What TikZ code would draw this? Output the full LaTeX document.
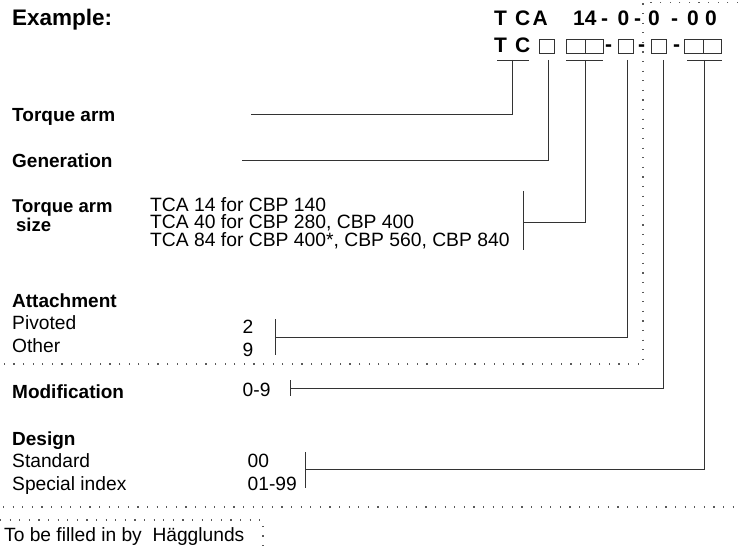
\documentclass[tikz,border=0pt]{standalone}
\usepackage{fontspec}
\setmainfont{Liberation Sans}
\begin{document}
\begin{tikzpicture}[x=1bp,y=-1bp,
 txt/.style={anchor=base west,inner sep=0pt,font=\fontsize{19.2bp}{19.2bp}\selectfont},
 btxt/.style={anchor=base west,inner sep=0pt,font=\fontsize{19bp}{19bp}\selectfont\bfseries},
 code/.style={anchor=base west,inner sep=0pt,font=\fontsize{21bp}{21bp}\selectfont\bfseries},
 sq/.style={draw=black!80,line width=0.9bp,minimum height=14bp,inner sep=0pt,anchor=north west},
 sqs/.style={sq,minimum width=15bp},
 sqw/.style={sq,minimum width=18.5bp},
 ln/.style={draw=black!80,line width=0.9bp},
 dots/.style={draw=black!65,line width=1.3bp,dash pattern=on 1.2bp off 8.4bp}]
\useasboundingbox (0,0) rectangle (738,553);

% ---- header row 1
\node[code] (h1) at (12,26) {\fontsize{22.5bp}{22.5bp}\selectfont Example:};
\node[code] (cT) at (494,26) {T};
\node[code] (cC) at (515,26) {C};
\node[code] (cA) at (532.5,26) {A};
\node[code] (c14) at (573,26) {14};
\node[code] (cd1) at (601,26) {-};
\node[code] (c0a) at (617.5,26) {0};
\node[code] (cd2) at (634,26) {-};
\node[code] (c0b) at (648,26) {0};
\node[code] (cd3) at (671,26) {-};
\node[code] (c0c) at (687,26) {0};
\node[code] (c0d) at (705,26) {0};

% ---- header row 2
\node[code] (rT) at (494,52.7) {T};
\node[code] (rC) at (515,52.7) {C};
\node[sqs] (b1) at (539,39) {};
\node[sqw] (b2a) at (566,39) {};
\node[sqw] (b2b) at (584.5,39) {};
\node[code] (rd1) at (605,52) {-};
\node[sqs] (b3) at (618,39) {};
\node[code] (rd2) at (638,52) {-};
\node[sqs] (b4) at (651,39) {};
\node[code] (rd3) at (673,52) {-};
\node[sqw] (b5a) at (684,39) {};
\node[sqw] (b5b) at (702.5,39) {};

% ---- labels
\node[btxt] (lTA) at (12,121.7) {Torque arm};
\node[btxt] (lGen) at (12,167.7) {Generation};
\node[anchor=north west,inner sep=0pt,align=left,
      font=\fontsize{18.5bp}{14.4bp}\selectfont\bfseries] (lSz) at (12,200)
      {Torque arm\\\hspace*{4bp}size};
\node[anchor=north west,inner sep=0pt,align=left,
      font=\fontsize{19.3bp}{17.5bp}\selectfont] (sizes) at (150,197)
      {TCA 14 for CBP 140\\TCA 40 for CBP 280, CBP 400\\TCA 84 for CBP 400*, CBP 560, CBP 840};
\node[btxt] (lAt) at (12,307.3) {Attachment};
\node[txt] (lPiv) at (12,329.3) {Pivoted};
\node[txt] (lOth) at (12,352.5) {Other};
\node[txt] (n2) at (242.5,333) {2};
\node[txt] (n9) at (242.5,356) {9};
\node[btxt] (lMod) at (12,398.3) {Modification};
\node[txt] (n09) at (242.5,396) {0-9};
\node[btxt] (lDes) at (12,445) {Design};
\node[txt] (lStd) at (12,467.7) {Standard};
\node[txt] (lSpc) at (12,490.7) {Special index};
\node[txt] (n00) at (247.5,467.7) {00};
\node[txt] (n0199) at (247.5,490.7) {01-99};
\node[txt] (lFill) at (4,541.7) {To be filled in by~ Hägglunds};

% ---- connector coordinates
\coordinate (tcL) at (497,60);
\coordinate (tcR) at (529,60);
\coordinate (tcV) at (512,60);
\coordinate (taEnd) at (251,114);
\coordinate (b1V) at (548,60);
\coordinate (genEnd) at (242,160);
\coordinate (p1L) at (566,60);
\coordinate (p1R) at (603,60);
\coordinate (p1V) at (585,60);
\coordinate (szTop) at (523,191);
\coordinate (szBot) at (523,250);
\coordinate (szMid) at (523,222);
\coordinate (b3V) at (627,60);
\coordinate (atTop) at (275,319);
\coordinate (atBot) at (275,355);
\coordinate (atMid) at (275,337);
\coordinate (b4V) at (663,60);
\coordinate (moTop) at (290,380);
\coordinate (moBot) at (290,396);
\coordinate (moMid) at (290,388.3);
\coordinate (p2L) at (687,60);
\coordinate (p2R) at (722,60);
\coordinate (p2V) at (704,60);
\coordinate (deTop) at (305,452);
\coordinate (deBot) at (305,488);
\coordinate (deMid) at (305,469);

% ---- connectors
\draw[ln] (tcL) -- (tcR);
\draw[ln] (tcV) |- (taEnd);
\draw[ln] (b1V) |- (genEnd);
\draw[ln] (p1L) -- (p1R);
\draw[ln] (p1V) |- (szMid);
\draw[ln] (szTop) -- (szBot);
\draw[ln] (b3V) |- (atMid);
\draw[ln] (atTop) -- (atBot);
\draw[ln] (b4V) |- (moMid);
\draw[ln] (moTop) -- (moBot);
\draw[ln] (p2L) -- (p2R);
\draw[ln] (p2V) |- (deMid);
\draw[ln] (deTop) -- (deBot);

% ---- dotted lines
\coordinate (dA) at (738,2.5);
\coordinate (dB) at (643,2.5);
\coordinate (dC) at (643,364);
\coordinate (dD) at (3,364);
\draw[dots] (dA) -- (dB) -- (dC) -- (dD);
\coordinate (eA) at (3,507);
\coordinate (eB) at (736,507);
\draw[dots] (eA) -- (eB);
\coordinate (fA) at (0,520);
\coordinate (fB) at (263,520);
\coordinate (fC) at (263,553);
\draw[dots] (fA) -- (fB) -- (fC);
\end{tikzpicture}
\end{document}
